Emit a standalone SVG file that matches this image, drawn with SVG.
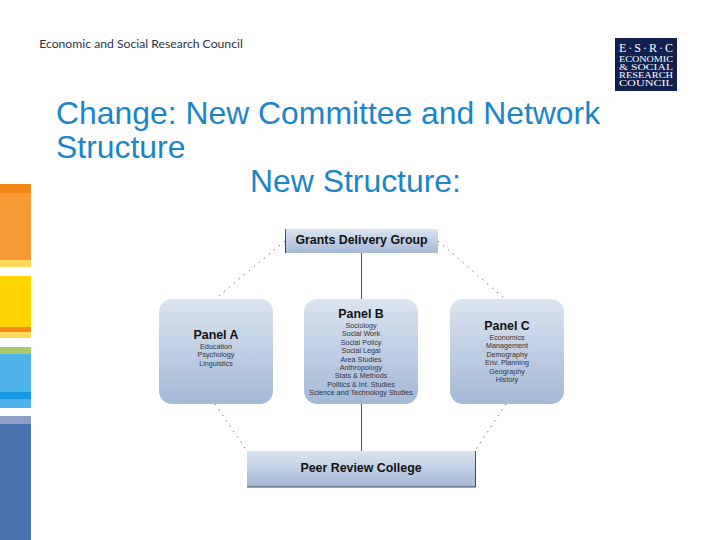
<svg xmlns="http://www.w3.org/2000/svg" width="720" height="540" viewBox="0 0 720 540">
<style>
text{font-family:"Liberation Sans",Arial,sans-serif;text-anchor:middle;fill:#111}
.title{font-size:31.900px;text-anchor:start;fill:#1b85c8}
.head{font-size:12.400px;font-weight:bold}
.item{font-size:7.200px;fill:#333}
.box{fill:url(#g)}
.edge{stroke:#222;stroke-width:.8;fill:none}
.dot{stroke:#555;stroke-width:.8;stroke-dasharray:1.5 5;fill:none}
.solid{stroke:#555;stroke-width:1;fill:none}
.logo{font-family:"Liberation Serif",serif;fill:#fff}
</style>
<defs><linearGradient id="g" x1="0" y1="0" x2="0" y2="1"><stop offset="0" stop-color="#dbe4f0"/><stop offset="1" stop-color="#a3b9d6"/></linearGradient></defs>
<rect width="720" height="540" fill="#fff"/>
<g id="sidebar">
<rect y="184" width="31" height="9" fill="#f08a14"/>
<rect y="193" width="31" height="67" fill="#f79a36"/>
<rect y="260" width="31" height="7" fill="#fdd85a"/>
<rect y="276" width="31" height="51" fill="#ffd400"/>
<rect y="327" width="31" height="5" fill="#f08a14"/>
<rect y="332" width="31" height="6" fill="#fdd85a"/>
<rect y="347" width="31" height="7" fill="#a9cb6e"/>
<rect y="354" width="31" height="38" fill="#4db2ea"/>
<rect y="392" width="31" height="7" fill="#1598e0"/>
<rect y="399" width="31" height="9" fill="#4db2ea"/>
<rect y="416" width="31" height="8" fill="#8ba0c6"/>
<rect y="424" width="31" height="116" fill="#4a72ad"/>
</g>
<g id="header">
<text x="141" y="48" style="font-family:'Lato','Liberation Sans',sans-serif;font-size:12.200px;fill:#2b3347">Economic and Social Research Council</text>
<rect x="615" y="38" width="62" height="53" fill="#10204f"/>
<text class="logo" x="646" y="52" font-size="12" textLength="54">E·S·R·C</text>
<text class="logo" x="646" y="62" font-size="7.800" textLength="54" lengthAdjust="spacingAndGlyphs">ECONOMIC</text>
<text class="logo" x="646" y="70" font-size="7.800" textLength="54" lengthAdjust="spacingAndGlyphs">&amp; SOCIAL</text>
<text class="logo" x="646" y="78" font-size="7.800" textLength="54" lengthAdjust="spacingAndGlyphs">RESEARCH</text>
<text class="logo" x="646" y="86" font-size="7.800" textLength="54" lengthAdjust="spacingAndGlyphs">COUNCIL</text>
</g>
<g id="title">
<text class="title" x="56" y="124">Change: New Committee and Network</text>
<text class="title" x="56" y="158">Structure</text>
<text class="title" x="250" y="192">New Structure:</text>
</g>
<g id="connectors">
<path class="solid" d="M361.500 253V299M361.500 404V451"/>
<path class="dot" d="M285 241L215 299M438 241L505 299M215 404L247 451M506 404L475 451"/>
</g>
<g id="grants">
<rect class="box" x="285" y="229" width="153" height="24"/>
<path class="edge" d="M285.500 229V253"/>
<text class="head" x="361.500" y="244">Grants Delivery Group</text>
</g>
<g id="panel-a">
<rect class="box" x="159" y="299" width="114" height="105" rx="13"/>
<text class="head" x="216" y="339">Panel A</text>
<text class="item" x="216" y="348.500">Education</text>
<text class="item" x="216" y="357">Psychology</text>
<text class="item" x="216" y="365.500">Linguistics</text>
</g>
<g id="panel-b">
<rect class="box" x="304" y="299" width="114" height="105" rx="13"/>
<text class="head" x="361" y="318">Panel B</text>
<text class="item" x="361" y="328">Sociology</text>
<text class="item" x="361" y="336.400">Social Work</text>
<text class="item" x="361" y="344.800">Social Policy</text>
<text class="item" x="361" y="353.200">Social Legal</text>
<text class="item" x="361" y="361.600">Area Studies</text>
<text class="item" x="361" y="370">Anthropology</text>
<text class="item" x="361" y="378.400">Stats &amp; Methods</text>
<text class="item" x="361" y="386.800">Politics &amp; Int. Studies</text>
<text class="item" x="361" y="395.200">Science and Technology Studies</text>
</g>
<g id="panel-c">
<rect class="box" x="450" y="299" width="114" height="105" rx="13"/>
<text class="head" x="507" y="330">Panel C</text>
<text class="item" x="507" y="340">Economics</text>
<text class="item" x="507" y="348.400">Management</text>
<text class="item" x="507" y="356.800">Demography</text>
<text class="item" x="507" y="365.200">Env. Planning</text>
<text class="item" x="507" y="373.600">Geography</text>
<text class="item" x="507" y="382">History</text>
</g>
<g id="peer">
<rect class="box" x="247" y="451" width="228.500" height="36"/>
<path class="edge" d="M475.500 451V487M247 487H475.500"/>
<text class="head" x="361" y="472">Peer Review College</text>
</g>
</svg>
